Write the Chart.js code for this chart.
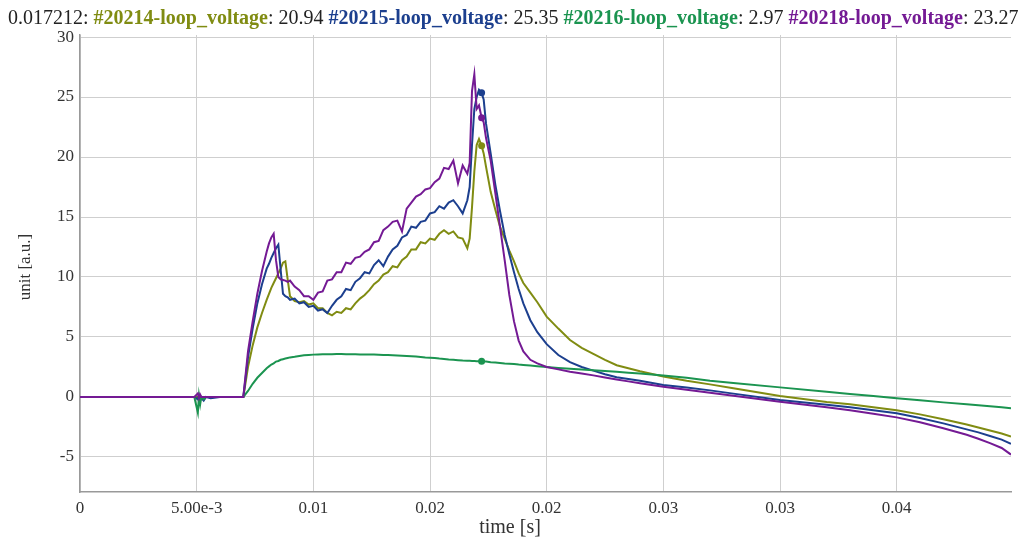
<!DOCTYPE html>
<html>
<head>
<meta charset="utf-8">
<script src="https://cdn.jsdelivr.net/npm/chart.js@4.4.1/dist/chart.umd.min.js"></script>
<style>
  body { margin: 0; background: #fff; }
  #loopChart { display: block; }
</style>
</head>
<body>
<canvas id="loopChart" width="1033" height="539"></canvas>
<script>
// sample times [s], shared by all four shots
const time = [
  0, 0.0049, 0.00505, 0.0051, 0.00515, 0.0052, 0.0053, 0.0054, 0.0056, 0.006, 0.0065, 0.007,
  0.0072, 0.0074, 0.0076, 0.0078, 0.008,
  0.0081, 0.0082, 0.0083, 0.0084, 0.0085, 0.0086, 0.0087, 0.0088, 0.0089, 0.009,
  0.0092, 0.0094, 0.0096, 0.0098, 0.01, 0.0102, 0.0104, 0.0106, 0.0108, 0.011,
  0.0112, 0.0114, 0.0116, 0.0118, 0.012, 0.0122, 0.0124, 0.0126, 0.0128, 0.013,
  0.0132, 0.0134, 0.0136, 0.0138, 0.014, 0.0142, 0.0144, 0.0146, 0.0148, 0.015,
  0.0152, 0.0154, 0.0156, 0.0158, 0.016, 0.0162, 0.0164,
  0.0166, 0.0167, 0.0168, 0.0169, 0.017, 0.0171, 0.017212, 0.0173, 0.0174,
  0.0176, 0.0178, 0.018, 0.0182, 0.0184, 0.0186, 0.0188, 0.019,
  0.0193, 0.0196, 0.02, 0.0205, 0.021, 0.0215, 0.022, 0.0225, 0.023, 0.0235, 0.024, 0.025, 0.026,
  0.027, 0.028, 0.03, 0.032, 0.033, 0.034, 0.035, 0.036, 0.037, 0.038, 0.0385, 0.039, 0.0395, 0.0399
];

const loop20214 = [
  0, 0, 0, -0.1, 0, 0, 0, 0, 0, 0, 0, 0,
  2.5, 4.3, 5.8, 7.0, 8.1,
  8.6, 9.1, 9.5, 9.9, 10.3, 10.7, 11.2, 11.3, 9.8, 8.4,
  8.0, 7.9, 8.0, 7.7, 7.8, 7.4, 7.4, 7.0, 6.8, 7.1,
  7.0, 7.4, 7.3, 7.8, 8.2, 8.5, 8.9, 9.4, 9.7, 10.2,
  10.4, 10.9, 10.8, 11.4, 11.7, 12.3, 12.3, 12.9, 12.8, 13.2,
  13.1, 13.6, 13.9, 13.6, 13.8, 13.3, 13.2,
  12.4, 13.2, 15.8, 18.8, 21.0, 21.5, 20.94, 20.3, 19.2,
  17.1, 15.6, 14.2, 13.2, 12.2, 11.3, 10.3, 9.5,
  8.7, 7.9, 6.7, 5.7, 4.75, 4.1, 3.6, 3.1, 2.65, 2.4, 2.15, 1.7, 1.35,
  1.05, 0.72, 0.08, -0.42, -0.6, -0.85, -1.1, -1.45, -1.85, -2.3, -2.55, -2.8, -3.05, -3.3
];

const loop20215 = [
  0, 0, -0.2, 0.1, -0.3, -0.1, -0.3, 0, -0.1, 0, 0, 0,
  3.3, 5.7, 7.8, 9.4, 10.7,
  11.1, 11.6, 12.0, 12.4, 12.7, 10.6, 8.6, 8.4, 8.3, 8.1,
  8.2, 7.8, 7.9, 7.5, 7.6, 7.2, 7.3, 7.0, 7.6, 8.1,
  8.4, 9.0, 8.9, 9.6, 9.9, 10.4, 10.3, 11.0, 11.4, 10.9,
  11.7, 12.3, 12.6, 13.3, 13.5, 14.2, 14.1, 14.6, 14.7, 15.3,
  15.4, 15.9, 15.7, 16.2, 16.4, 15.9, 15.3,
  16.4, 17.5, 21.0, 24.0, 25.0, 25.6, 25.35, 24.8, 22.8,
  20.3, 17.7, 15.5, 13.5, 11.9, 10.4, 9.0, 7.8,
  6.4, 5.4, 4.4, 3.5, 2.9, 2.5, 2.2, 1.9, 1.65, 1.5, 1.36, 1.0, 0.78,
  0.55, 0.28, -0.25, -0.65, -0.85, -1.1, -1.36, -1.75, -2.2, -2.7, -2.95, -3.25, -3.55, -3.9
];

const loop20216 = [
  0, 0, -1.3, 0.1, -0.6, 0, -0.2, 0, 0, 0, 0, 0,
  0.5, 1.1, 1.6, 2.0, 2.4,
  2.55, 2.7, 2.8, 2.95, 3.0, 3.1, 3.15, 3.2, 3.25, 3.3,
  3.35, 3.42, 3.47, 3.5, 3.53, 3.55, 3.56, 3.57, 3.57, 3.58,
  3.58, 3.57, 3.57, 3.56, 3.55, 3.55, 3.54, 3.53, 3.52, 3.5,
  3.49, 3.48, 3.46, 3.44, 3.42, 3.4, 3.37, 3.34, 3.3, 3.27,
  3.24, 3.2, 3.17, 3.13, 3.1, 3.07, 3.04,
  3.02, 3.01, 3.0, 2.99, 2.98, 2.98, 2.97, 2.96, 2.95,
  2.9, 2.87, 2.84, 2.8, 2.77, 2.74, 2.7, 2.67,
  2.62, 2.57, 2.5, 2.42, 2.35, 2.28, 2.22, 2.16, 2.1, 2.02, 1.95, 1.8, 1.6,
  1.35, 1.17, 0.8, 0.43, 0.25, 0.08, -0.1, -0.28, -0.45, -0.6, -0.69, -0.78, -0.86, -0.95
];

const loop20218 = [
  0, 0, 0.3, -0.1, 0.2, 0, 0, 0, 0, 0, 0, 0,
  3.8, 6.3, 8.6, 10.5, 12.1,
  12.8, 13.3, 13.6, 11.4, 10.0, 9.8, 9.75, 9.7, 9.6, 9.7,
  9.2, 8.9, 8.4, 8.4, 8.1, 8.7, 8.8, 9.7, 9.8, 10.4,
  10.4, 11.2, 11.1, 11.6, 11.7, 12.1, 12.3, 12.9, 13.0, 13.9,
  14.2, 14.6, 14.7, 13.8, 15.7, 16.2, 16.7, 16.9, 17.3, 17.4,
  17.9, 18.2, 19.1, 19.0, 19.7, 17.8, 19.3,
  18.6, 19.5, 25.5, 26.9, 24.0, 24.3, 23.27, 22.9, 21.6,
  19.7, 17.0, 14.2, 11.4, 8.5, 6.3, 4.7, 3.8,
  3.1, 2.8, 2.5, 2.3, 2.1, 1.95, 1.8, 1.62, 1.45, 1.3, 1.14, 0.86, 0.6,
  0.35, 0.1, -0.4, -0.85, -1.1, -1.4, -1.7, -2.1, -2.6, -3.15, -3.48, -3.85, -4.25, -4.8
];

const seriesNames = ['#20214-loop_voltage', '#20215-loop_voltage', '#20216-loop_voltage', '#20218-loop_voltage'];
const seriesColors = ['#808c12', '#1c3f8e', '#1b9450', '#741a94'];
const seriesValues = [loop20214, loop20215, loop20216, loop20218];

const xTicks = [0, 0.005, 0.01, 0.015, 0.02, 0.025, 0.03, 0.035];
const xTickLabels = ['0', '5.00e-3', '0.01', '0.02', '0.02', '0.03', '0.03', '0.04'];
const yTicks = [-5, 0, 5, 10, 15, 20, 25, 30];

// the sample the readout line refers to
const hoverIndex = time.indexOf(0.017212);

const serif = '"Liberation Serif", "Times New Roman", serif';
const textColor = '#222';

const datasets = seriesValues.map((vals, i) => ({
  label: seriesNames[i],
  data: vals.map((v, j) => ({ x: time[j], y: v })),
  borderColor: seriesColors[i],
  backgroundColor: seriesColors[i],
  borderWidth: 2,
  tension: 0,
  pointRadius: c => (c.dataIndex === hoverIndex ? 3.5 : 0),
  pointBorderWidth: 0,
  order: 4 - i
}));

// readout line on top plus the two axis titles
const labelsPlugin = {
  id: 'labels',
  afterDraw(chart) {
    const ctx = chart.ctx;
    ctx.save();
    ctx.textBaseline = 'alphabetic';
    ctx.textAlign = 'left';
    const normal = '20px ' + serif;
    const bold = 'bold 20px ' + serif;
    let x = 8;
    const y = 24;
    const put = (text, font, color) => {
      ctx.font = font;
      ctx.fillStyle = color;
      ctx.fillText(text, x, y);
      x += ctx.measureText(text).width;
    };
    put(time[hoverIndex] + ': ', normal, textColor);
    seriesNames.forEach((name, i) => {
      put(name, bold, seriesColors[i]);
      put(': ' + seriesValues[i][hoverIndex].toFixed(2) + (i < seriesNames.length - 1 ? ' ' : ''), normal, textColor);
    });

    ctx.fillStyle = '#333';
    ctx.textAlign = 'center';
    ctx.font = '20px ' + serif;
    ctx.fillText('time [s]', 510, 533);

    ctx.translate(26, 267);
    ctx.rotate(-Math.PI / 2);
    ctx.textBaseline = 'middle';
    ctx.font = '17px ' + serif;
    ctx.fillText('unit [a.u.]', 0, 0);
    ctx.restore();
  }
};

new Chart(document.getElementById('loopChart'), {
  type: 'line',
  data: { datasets },
  options: {
    responsive: false,
    animation: false,
    layout: { padding: { top: 35, right: 22, left: 0, bottom: 0 } },
    plugins: {
      legend: { display: false },
      tooltip: { enabled: false }
    },
    scales: {
      x: {
        type: 'linear',
        min: 0,
        max: 0.0399,
        afterBuildTicks: axis => { axis.ticks = xTicks.map(v => ({ value: v })); },
        afterFit: scale => { scale.height = 47; },
        ticks: {
          callback: (v, i) => xTickLabels[i],
          font: { family: serif, size: 17 },
          color: '#333',
          maxRotation: 0,
          padding: 6
        },
        grid: { color: '#cfcfcf', lineWidth: 1, drawTicks: false },
        border: { color: '#999', width: 1.5 }
      },
      y: {
        type: 'linear',
        min: -7.92,
        max: 30.17,
        afterBuildTicks: axis => { axis.ticks = yTicks.map(v => ({ value: v })); },
        afterFit: scale => { scale.width = 80; },
        ticks: {
          font: { family: serif, size: 17 },
          color: '#333',
          padding: 6
        },
        grid: { color: '#cfcfcf', lineWidth: 1, drawTicks: false },
        border: { color: '#999', width: 1.5 }
      }
    }
  },
  plugins: [labelsPlugin]
});
</script>
</body>
</html>
